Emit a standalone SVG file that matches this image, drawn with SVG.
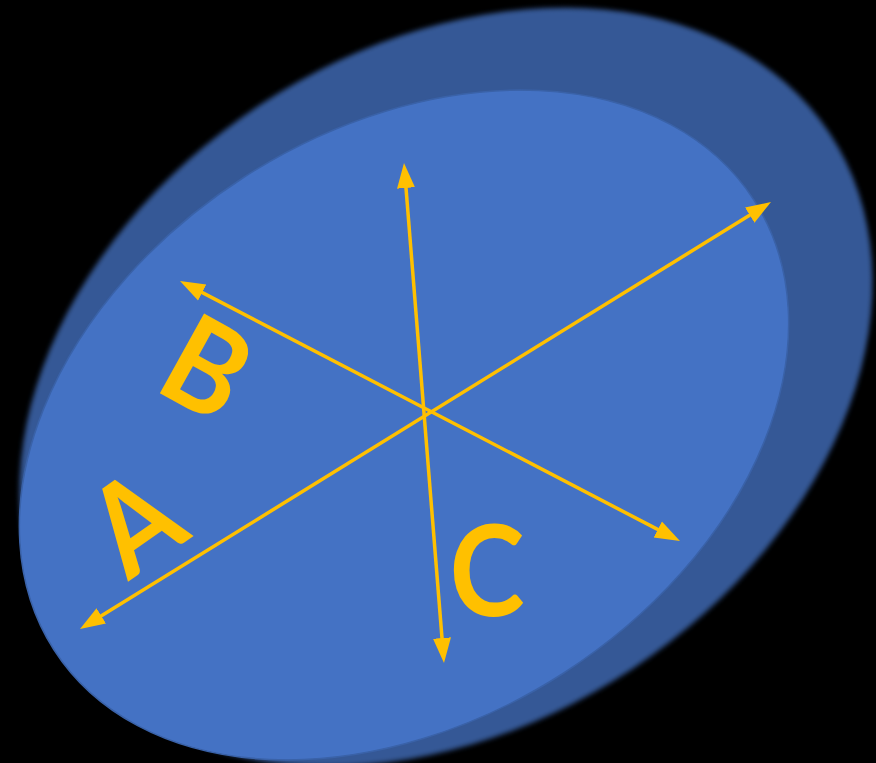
<svg xmlns="http://www.w3.org/2000/svg" width="876" height="763" viewBox="0 0 876 763">
  <style>
    .axis { stroke: #FFC000; stroke-width: 3.5; fill: none; marker-start: url(#head); marker-end: url(#head); }
    .lbl { font-family: "Lato", "Open Sans", "Liberation Sans", sans-serif; font-weight: 700; font-size: 126px; fill: #FFC000; text-anchor: middle; }
  </style>
  <defs>
    <filter id="soft" x="-10%" y="-10%" width="120%" height="120%">
      <feGaussianBlur stdDeviation="2.6"/>
    </filter>
    <marker id="head" markerUnits="userSpaceOnUse" viewBox="0 0 26 20" markerWidth="26" markerHeight="20" refX="15" refY="10" orient="auto-start-reverse">
      <path d="M0,1 L25,10 L0,19 z" fill="#FFC000"/>
    </marker>
  </defs>
  <rect x="0" y="0" width="876" height="763" fill="#000000"/>
  <g id="disc-back">
    <ellipse cx="446" cy="387" rx="460" ry="338" transform="rotate(-33.5 446 387)" fill="#345896" filter="url(#soft)"/>
  </g>
  <g id="disc-front">
    <ellipse cx="404" cy="425" rx="416" ry="295" transform="rotate(-32.7 404 425)" fill="#4472C4" stroke="#3A62A8" stroke-width="1.5"/>
  </g>
  <g id="connectors">
    <line id="axis-A" class="axis" x1="88.5" y1="623.7" x2="762.5" y2="207.3"/>
    <line id="axis-B" class="axis" x1="188.9" y1="285.6" x2="671.1" y2="536.4"/>
    <line id="axis-C" class="axis" x1="404.8" y1="173" x2="443.2" y2="653"/>
  </g>
  <g id="label-A" transform="translate(135 522) rotate(-35) scale(0.9 1)">
    <text class="lbl" x="0" y="45">A</text>
  </g>
  <g id="label-B" transform="translate(207 368) rotate(29) scale(0.92 1)">
    <text class="lbl" x="0" y="45">B</text>
  </g>
  <g id="label-C" transform="translate(487 571) scale(0.9 1)">
    <text class="lbl" x="0" y="45">C</text>
  </g>
</svg>
